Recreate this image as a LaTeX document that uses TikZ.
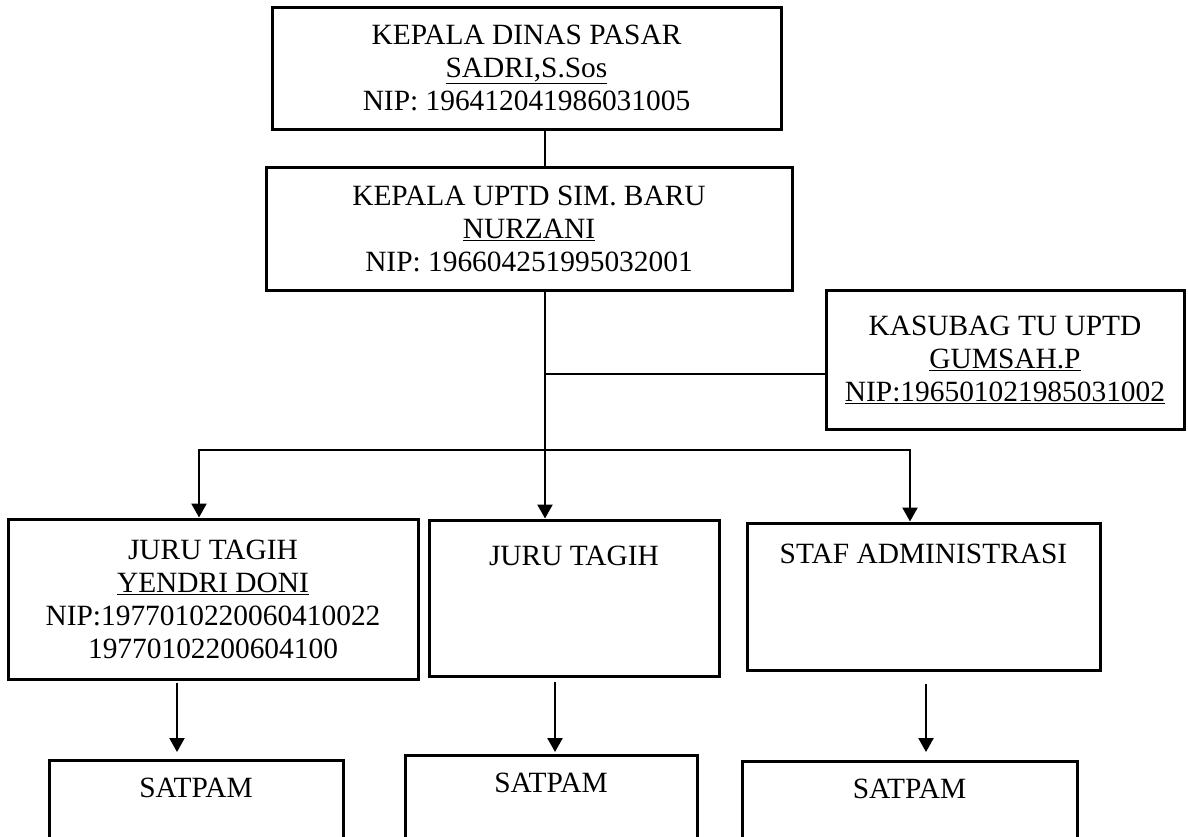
\documentclass[tikz,border=0pt]{standalone}
\usepackage{fontspec}
\setmainfont{Liberation Serif}
\usetikzlibrary{positioning,arrows.meta}

\begin{document}
\begin{tikzpicture}[x=1pt,y=-1pt,
	every node/.style={font=\fontsize{29.4}{33}\selectfont},
	box/.style={draw,line width=3pt,align=center,inner sep=0pt},
	txt/.style={inner sep=0pt},
	link/.style={line width=2.4pt},
	arr/.style={link,-{Triangle[width=15pt,length=14pt]}}]

\useasboundingbox (0,0) rectangle (1188,836);
\clip (0,0) rectangle (1188,836);

% pimpinan
\node[box,minimum width=509pt,minimum height=122pt] (dinas) at (526.5,68)
	{KEPALA DINAS PASAR\\\underline{SADRI,S.Sos}\\NIP: 196412041986031005};
\node[box,minimum width=526pt,minimum height=123pt] (uptd) at (529,228.5)
	{KEPALA UPTD SIM. BARU\\\underline{NURZANI}\\NIP: 196604251995032001};
\node[box,minimum width=358pt,minimum height=139pt] (kasubag) at (1005,359.5)
	{KASUBAG TU UPTD\\\underline{GUMSAH.P}\\\underline{NIP:196501021985031002}};

% staf
\node[box,minimum width=410pt,minimum height=160pt] (juru1) at (213,599)
	{JURU TAGIH\\\underline{YENDRI DONI}\\NIP:1977010220060410022\\19770102200604100};
\node[box,minimum width=290pt,minimum height=156pt] (juru2) at (574,598) {};
\node[box,minimum width=353pt,minimum height=147pt] (staf) at (923.5,596.5) {};
\node[txt,below=27.5pt of juru2.north] (juru2t) {JURU TAGIH};
\node[txt,below=22.5pt of staf.north] (staft) {STAF ADMINISTRASI};

% satpam
\foreach \n/\x/\y/\w in {1/196/759/294,2/551/754/292,3/909.5/760/335}{
	\node[box,anchor=north,minimum width=\w pt,minimum height=160pt] (satpam\n) at (\x,\y) {};
	\node[txt,below=18.5pt of satpam\n.north] (satpam\n t) {SATPAM};
}

% garis
\coordinate (spine) at (545,450);
\coordinate (tu) at (545,374);
\coordinate (busL) at (199,450);
\coordinate (busR) at (910,450);
\draw[link] (dinas.south -| spine) -- (uptd.north -| spine);
\draw[link] (tu) -- (tu -| kasubag.west);
\draw[arr] (uptd.south -| spine) -- (juru2.north -| spine);
\draw[link,{Triangle[width=15pt,length=14pt]}-{Triangle[width=15pt,length=14pt]}]
	(juru1.north -| busL) -- (busL) -- (busR) -- (staf.north -| busR);

\foreach \a/\b/\x/\s/\e in {juru1/satpam1/177/2/7,juru2/satpam2/555/4/2,staf/satpam3/926/12/8}{
	\coordinate (d) at (\x,0);
	\draw[arr,shorten <=\s pt,shorten >=\e pt] (\a.south -| d) -- (\b.north -| d);
}

\end{tikzpicture}
\end{document}
